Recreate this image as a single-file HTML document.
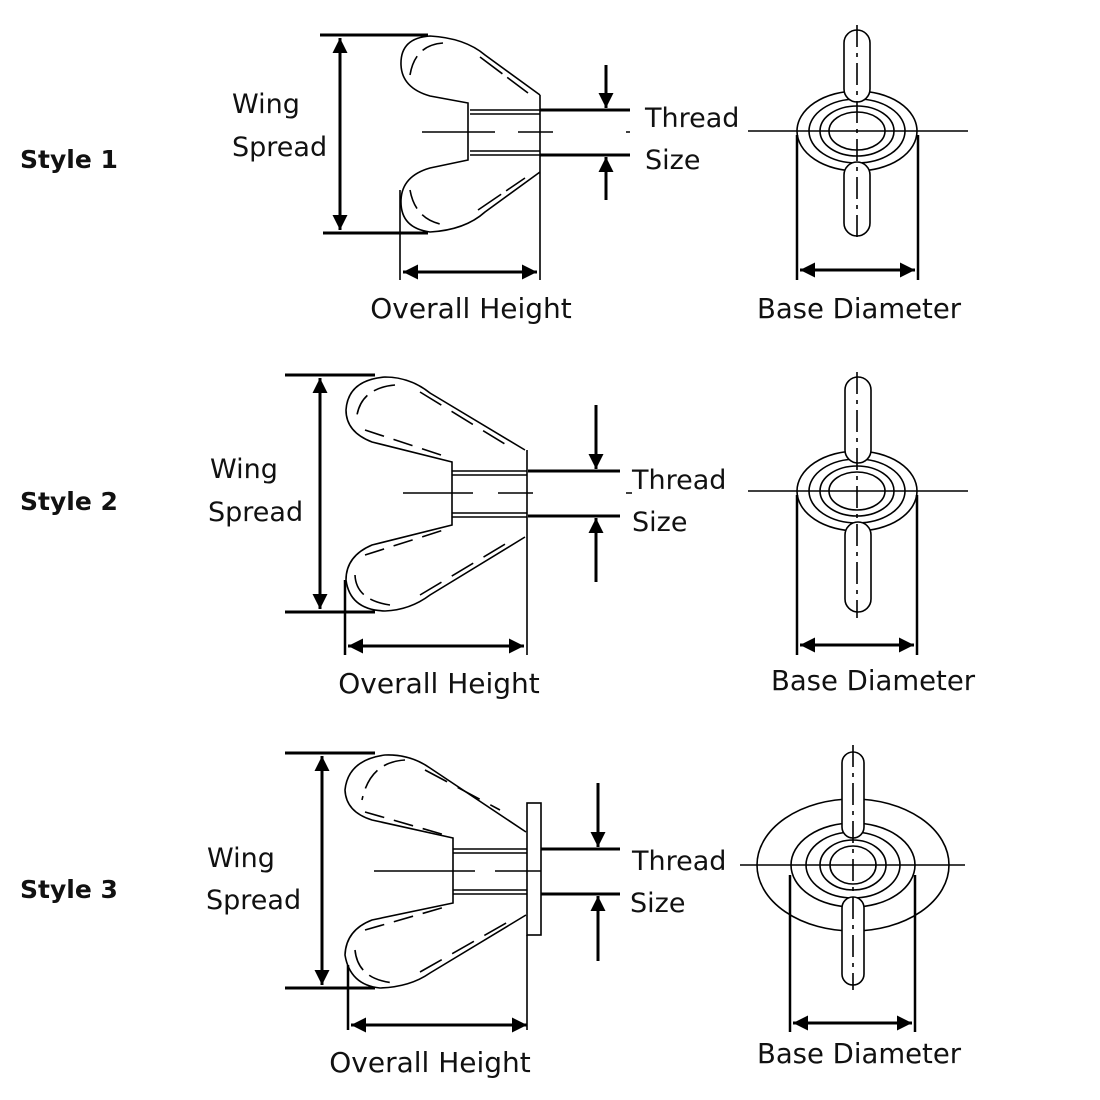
<!DOCTYPE html>
<html><head><meta charset="utf-8"><style>
html,body{margin:0;padding:0;background:#fff;}
svg{display:block;}
text{font-family:"DejaVu Sans","Liberation Sans",sans-serif;fill:#111;}
</style></head><body>
<svg width="1100" height="1100" viewBox="0 0 1100 1100" xmlns="http://www.w3.org/2000/svg">
<defs>
<marker id="a" viewBox="0 0 10 10" refX="10" refY="5" markerWidth="5.5" markerHeight="5" orient="auto-start-reverse" markerUnits="strokeWidth"><path d="M0,0 L10,5 L0,10 z" fill="#000"/></marker>
</defs>
<g fill="none" stroke="#000">
<!-- ===== STYLE 1 side ===== -->
<g stroke-width="3">
<line x1="320" y1="35" x2="428" y2="35"/><line x1="323" y1="233" x2="428" y2="233"/>
<line x1="340" y1="38" x2="340" y2="230" marker-start="url(#a)" marker-end="url(#a)"/>
<line x1="540" y1="110" x2="630" y2="110"/><line x1="540" y1="155" x2="630" y2="155"/>
<line x1="606" y1="65" x2="606" y2="108" marker-end="url(#a)"/>
<line x1="606" y1="200" x2="606" y2="157" marker-end="url(#a)"/>
<line x1="403" y1="272" x2="537" y2="272" marker-start="url(#a)" marker-end="url(#a)"/>
</g>
<g stroke-width="1.6">
<path d="M540,95 L485,55 Q465,38 430,36 Q400,38 401,65 Q402,88 430,96 L468,103 L468,160 L430,168 Q402,176 401,200 Q400,228 430,232 Q465,230 485,212 L540,172"/>
<line x1="540" y1="95" x2="540" y2="280"/>
<line x1="400" y1="190" x2="400" y2="280"/>
<line x1="470" y1="110" x2="540" y2="110"/><line x1="470" y1="114" x2="540" y2="114"/>
<line x1="470" y1="151" x2="540" y2="151"/><line x1="470" y1="155" x2="540" y2="155"/>
<path d="M422,132 H495 M518,132 H553 M626,132 H630"/>
<path d="M443,43 Q415,45 410,75" stroke-dasharray="22 8"/>
<path d="M480,57 L528,93" stroke-dasharray="28 6"/>
<path d="M410,190 Q415,218 440,224" stroke-dasharray="20 8"/>
<path d="M478,210 L525,178" stroke-dasharray="28 6"/>
</g>
<!-- ===== STYLE 1 top ===== -->
<g stroke-width="1.6">
<ellipse cx="857" cy="131" rx="60" ry="40"/>
<ellipse cx="857" cy="131" rx="48" ry="32"/>
<ellipse cx="857" cy="131" rx="37" ry="25"/>
<ellipse cx="857" cy="131" rx="28" ry="19"/>
<rect x="844" y="30" width="26" height="72" rx="13" fill="#fff"/>
<rect x="844" y="162" width="26" height="74" rx="13" fill="#fff"/>
<line x1="857" y1="25" x2="857" y2="242" stroke-dasharray="22 6 4 6"/>
<line x1="748" y1="131" x2="968" y2="131"/>
<line x1="797" y1="135" x2="797" y2="280" stroke-width="2.5"/>
<line x1="918" y1="135" x2="918" y2="280" stroke-width="2.5"/>
</g>
<line x1="800" y1="270" x2="915" y2="270" stroke-width="3" marker-start="url(#a)" marker-end="url(#a)"/>

<!-- ===== STYLE 2 side ===== -->
<g stroke-width="3">
<line x1="285" y1="375" x2="375" y2="375"/><line x1="285" y1="612" x2="375" y2="612"/>
<line x1="320" y1="378" x2="320" y2="609" marker-start="url(#a)" marker-end="url(#a)"/>
<line x1="528" y1="471" x2="620" y2="471"/><line x1="528" y1="516" x2="620" y2="516"/>
<line x1="596" y1="405" x2="596" y2="469" marker-end="url(#a)"/>
<line x1="596" y1="582" x2="596" y2="518" marker-end="url(#a)"/>
<line x1="348" y1="646" x2="524" y2="646" marker-start="url(#a)" marker-end="url(#a)"/>
</g>
<g stroke-width="1.6">
<path d="M525,450 L430,393 Q410,377 385,377 Q348,380 346,410 Q346,432 372,442 L452,462 L452,525 L372,545 Q346,556 346,580 Q350,610 385,611 Q410,610 430,595 L525,537"/>
<line x1="527" y1="450" x2="527" y2="655"/>
<line x1="345" y1="580" x2="345" y2="655" stroke-width="2.5"/>
<line x1="452" y1="471" x2="527" y2="471"/><line x1="452" y1="475" x2="527" y2="475"/>
<line x1="452" y1="513" x2="527" y2="513"/><line x1="452" y1="517" x2="527" y2="517"/>
<path d="M403,493 H473 M498,493 H533 M626,493 H632"/>
<path d="M395,385 Q362,388 357,415" stroke-dasharray="22 8"/>
<path d="M420,392 L513,449" stroke-dasharray="25 12"/>
<path d="M365,430 L450,458" stroke-dasharray="20 10"/>
<path d="M365,555 L450,528" stroke-dasharray="20 10"/>
<path d="M355,575 Q356,600 390,605" stroke-dasharray="22 8"/>
<path d="M420,595 L512,540" stroke-dasharray="25 12"/>
</g>
<!-- ===== STYLE 2 top ===== -->
<g stroke-width="1.6">
<ellipse cx="857" cy="491" rx="60" ry="40"/>
<ellipse cx="857" cy="491" rx="48" ry="32"/>
<ellipse cx="857" cy="491" rx="37" ry="25"/>
<ellipse cx="857" cy="491" rx="28" ry="19"/>
<rect x="845" y="377" width="26" height="86" rx="13" fill="#fff"/>
<rect x="845" y="522" width="26" height="90" rx="13" fill="#fff"/>
<line x1="857" y1="372" x2="857" y2="618" stroke-dasharray="22 6 4 6"/>
<line x1="748" y1="491" x2="968" y2="491"/>
<line x1="797" y1="495" x2="797" y2="655" stroke-width="2.5"/>
<line x1="917" y1="495" x2="917" y2="655" stroke-width="2.5"/>
</g>
<line x1="800" y1="645" x2="914" y2="645" stroke-width="3" marker-start="url(#a)" marker-end="url(#a)"/>

<!-- ===== STYLE 3 side ===== -->
<g stroke-width="3">
<line x1="285" y1="753" x2="375" y2="753"/><line x1="285" y1="988" x2="375" y2="988"/>
<line x1="322" y1="756" x2="322" y2="985" marker-start="url(#a)" marker-end="url(#a)"/>
<line x1="541" y1="849" x2="620" y2="849"/><line x1="541" y1="894" x2="620" y2="894"/>
<line x1="598" y1="783" x2="598" y2="847" marker-end="url(#a)"/>
<line x1="598" y1="961" x2="598" y2="896" marker-end="url(#a)"/>
<line x1="351" y1="1025" x2="527" y2="1025" marker-start="url(#a)" marker-end="url(#a)"/>
</g>
<g stroke-width="1.6">
<path d="M526,832 L430,768 Q410,754 385,755 Q348,760 345,790 Q346,812 372,820 L453,838 L453,903 L372,920 Q346,930 345,955 Q350,985 380,988 Q410,987 430,973 L526,915"/>
<rect x="527" y="803" width="14" height="132" fill="#fff"/>
<line x1="527" y1="935" x2="527" y2="1030"/>
<line x1="348" y1="965" x2="348" y2="1030" stroke-width="2.5"/>
<line x1="453" y1="849" x2="527" y2="849"/><line x1="453" y1="853" x2="527" y2="853"/>
<line x1="453" y1="890" x2="527" y2="890"/><line x1="453" y1="894" x2="527" y2="894"/>
<path d="M374,871 H475 M495,871 H541"/>
<path d="M405,760 Q370,762 362,800" stroke-dasharray="22 8"/>
<path d="M425,770 L500,810" stroke-dasharray="25 12"/>
<path d="M365,812 L445,835" stroke-dasharray="20 10"/>
<path d="M365,930 L445,907" stroke-dasharray="20 10"/>
<path d="M355,950 Q358,980 395,983" stroke-dasharray="22 8"/>
<path d="M420,972 L515,918" stroke-dasharray="25 12"/>
</g>
<!-- ===== STYLE 3 top ===== -->
<g stroke-width="1.6">
<ellipse cx="853" cy="865" rx="96" ry="66"/>
<ellipse cx="853" cy="865" rx="62" ry="42"/>
<ellipse cx="853" cy="865" rx="47" ry="33"/>
<ellipse cx="853" cy="865" rx="33" ry="25"/>
<ellipse cx="853" cy="865" rx="23" ry="19"/>
<rect x="842" y="752" width="22" height="86" rx="11" fill="#fff"/>
<rect x="842" y="897" width="22" height="88" rx="11" fill="#fff"/>
<line x1="853" y1="745" x2="853" y2="990" stroke-dasharray="22 6 4 6"/>
<line x1="740" y1="865" x2="965" y2="865"/>
<line x1="790" y1="875" x2="790" y2="1032" stroke-width="2.5"/>
<line x1="915" y1="875" x2="915" y2="1032" stroke-width="2.5"/>
</g>
<line x1="793" y1="1023" x2="912" y2="1023" stroke-width="3" marker-start="url(#a)" marker-end="url(#a)"/>
</g>

<!-- labels -->
<g font-size="27">
<text x="20" y="168" font-weight="bold" font-size="25">Style 1</text>
<text x="20" y="510" font-weight="bold" font-size="25">Style 2</text>
<text x="20" y="898" font-weight="bold" font-size="25">Style 3</text>

<text x="232" y="113">Wing</text><text x="232" y="156">Spread</text>
<text x="645" y="127">Thread</text><text x="645" y="169">Size</text>
<text x="471" y="318" text-anchor="middle" font-size="28">Overall Height</text>
<text x="859" y="318" text-anchor="middle" font-size="27.5">Base Diameter</text>

<text x="210" y="478">Wing</text><text x="208" y="521">Spread</text>
<text x="632" y="489">Thread</text><text x="632" y="531">Size</text>
<text x="439" y="693" text-anchor="middle" font-size="28">Overall Height</text>
<text x="873" y="690" text-anchor="middle" font-size="27.5">Base Diameter</text>

<text x="207" y="867">Wing</text><text x="206" y="909">Spread</text>
<text x="632" y="870">Thread</text><text x="630" y="912">Size</text>
<text x="430" y="1072" text-anchor="middle" font-size="28">Overall Height</text>
<text x="859" y="1063" text-anchor="middle" font-size="27.5">Base Diameter</text>
</g>
</svg>
</body></html>
